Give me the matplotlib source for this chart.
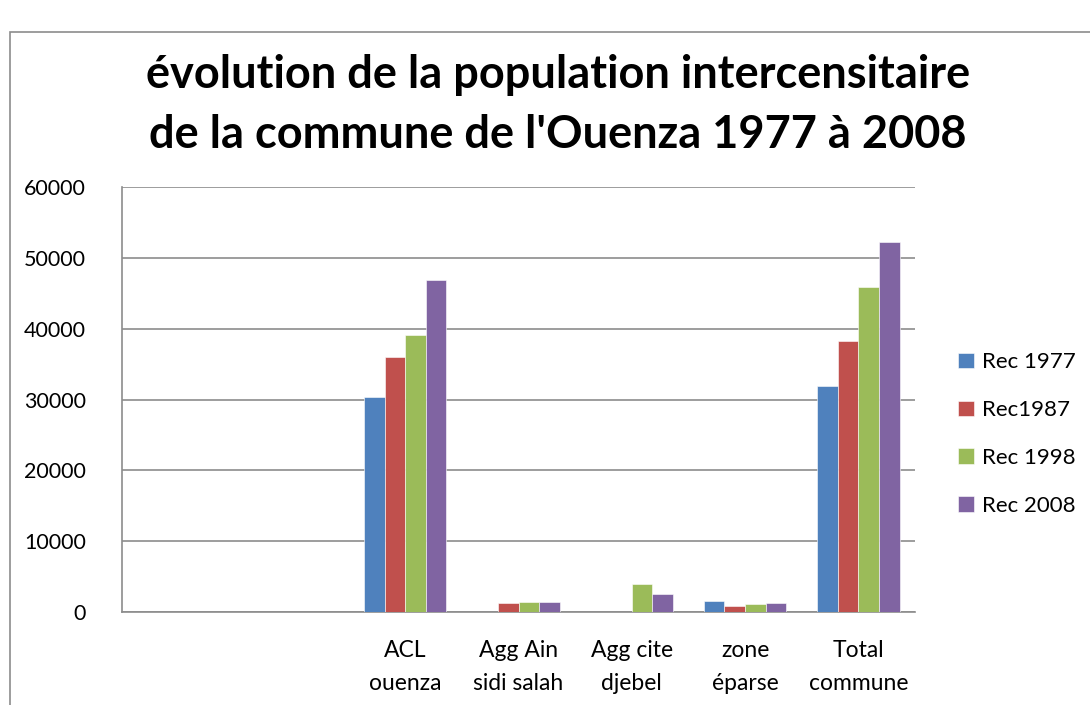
import matplotlib
matplotlib.use("Agg")
import matplotlib.pyplot as plt
import numpy as np
from matplotlib.patches import Rectangle

plt.rcParams['font.family'] = ['Lato', 'DejaVu Sans']

categories = ["", "", "ACL\nouenza", "Agg Ain\nsidi salah", "Agg cite\ndjebel", "zone\néparse", "Total\ncommune"]
series_names = ["Rec 1977", "Rec1987", "Rec 1998", "Rec 2008"]
rec1977 = [0, 0, 30400, 0, 0, 1500, 31950]
rec1987 = [0, 0, 36050, 1300, 0, 800, 38250]
rec1998 = [0, 0, 39100, 1450, 3900, 1100, 45850]
rec2008 = [0, 0, 46900, 1450, 2500, 1300, 52250]
colors = ["#4F81BD", "#C0504D", "#9BBB59", "#8064A2"]
yticks = [0, 10000, 20000, 30000, 40000, 50000, 60000]
title = "évolution de la population intercensitaire\nde la commune de l'Ouenza 1977 à 2008"

W, H = 1090, 705
fig = plt.figure(figsize=(W/100, H/100), dpi=100)
fig.patch.set_facecolor("white")

# outer chart border
fig.add_artist(Rectangle((10/W, -0.1), 1.2, (H-32)/H + 0.1, transform=fig.transFigure,
                         fill=False, edgecolor="#8c8c8c", linewidth=1.2))

ax = fig.add_axes([122/W, 1-612/H, (915-122)/W, (612-187)/H])
x = np.arange(len(categories))
bw = 1/5.5
data = [rec1977, rec1987, rec1998, rec2008]
for i, (vals, c, n) in enumerate(zip(data, colors, series_names)):
    ax.bar(x + (i-1.5)*bw, vals, width=bw, color=c, label=n, edgecolor="white", linewidth=0.4, zorder=3)

ax.set_xlim(-0.5, len(categories)-0.5)
ax.set_ylim(0, 60000)
ax.set_yticks(yticks)
ax.set_yticklabels([str(v) for v in yticks], fontsize=15.5)
ax.set_xticks(x)
ax.set_xticklabels(categories, fontsize=16.5, linespacing=1.7)
ax.grid(axis="y", color="#8c8c8c", linewidth=1.2, zorder=0)
for s in ["top", "right"]:
    ax.spines[s].set_visible(False)
ax.spines["left"].set_color("#8c8c8c")
ax.spines["bottom"].set_color("#8c8c8c")
ax.spines["left"].set_linewidth(1.2)
ax.spines["bottom"].set_linewidth(1.2)
ax.tick_params(axis="y", length=0, pad=26)
ax.tick_params(axis="x", length=0, pad=20)

fig.text(558/W, 1-105/H, title, ha="center", va="center", fontsize=32.5, fontweight="bold", linespacing=1.5)

leg = ax.legend(loc="center left", bbox_to_anchor=(958/W, 1-434/H), bbox_transform=fig.transFigure,
                frameon=False, fontsize=16, handlelength=0.7, handleheight=0.7,
                labelspacing=1.25, handletextpad=0.4, borderpad=0, borderaxespad=0)

fig.savefig("out.png", dpi=100)
